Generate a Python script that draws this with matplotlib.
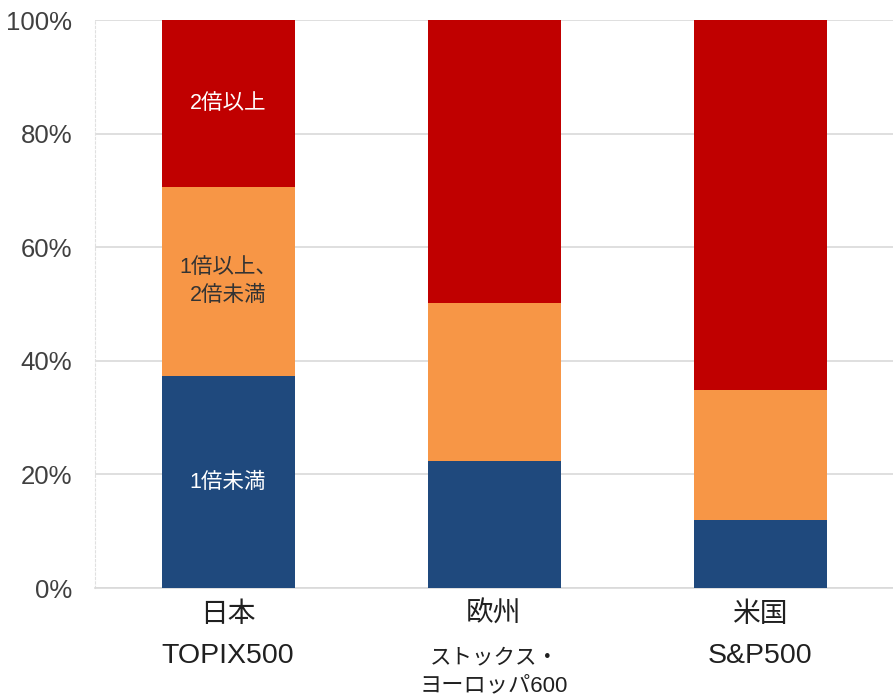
import matplotlib
matplotlib.use("Agg")
import matplotlib.pyplot as plt
import numpy as np

regions = ["日本", "欧州", "米国"]
indices = [["TOPIX500"], ["ストックス・", "ヨーロッパ600"], ["S&P500"]]
series_names = ["1倍未満", "1倍以上、\n2倍未満", "2倍以上"]
below1 = [37.3, 22.4, 12.0]
between1_2 = [33.3, 27.8, 22.9]
above2 = [29.4, 49.8, 65.1]
yticks = [0, 20, 40, 60, 80, 100]
ytick_labels = ["0%", "20%", "40%", "60%", "80%", "100%"]

colors = ["#1F497D", "#F79646", "#C00000"]
label_colors = ["white", "#333333", "white"]

plt.rcParams['font.family'] = ['Liberation Sans', 'Noto Sans CJK JP', 'DejaVu Sans']

fig = plt.figure(figsize=(8.93, 6.99), dpi=100)
ax = fig.add_axes([95/893, 1 - 588/699, 1 - 95/893, (588 - 20)/699])

x = np.arange(len(regions))
bottom = np.zeros(len(regions))
for i, vals in enumerate([below1, between1_2, above2]):
    vals = np.array(vals)
    ax.bar(x, vals, width=0.5, bottom=bottom, color=colors[i], zorder=3)
    ax.text(x[0], bottom[0] + vals[0] / 2, series_names[i], ha='center', va='center',
            color=label_colors[i], fontsize=15.5, linespacing=1.45, zorder=4)
    bottom += vals

ax.set_xlim(-0.5, 2.5)
ax.set_ylim(0, 100)
ax.set_yticks(yticks)
ax.set_yticklabels(ytick_labels, fontsize=18.5, color='#404040')
ax.set_xticks(x)
ax.set_xticklabels([])
ax.tick_params(axis='both', length=0)
ax.tick_params(axis='y', pad=16.5)
ax.grid(axis='y', color='#D9D9D9', linewidth=1.2, zorder=0)

PX = 0.72  # points per pixel at 100 dpi
for xi, reg, idx in zip(x, regions, indices):
    ax.annotate(reg, xy=(xi, 0), xycoords='data', xytext=(0, -27 * PX),
                textcoords='offset points', ha='center', va='center',
                fontsize=20, color='#202020', annotation_clip=False)
    if len(idx) == 1:
        ax.annotate(idx[0], xy=(xi, 0), xycoords='data', xytext=(0, -68 * PX),
                    textcoords='offset points', ha='center', va='center',
                    fontsize=20.5, color='#202020', annotation_clip=False)
    else:
        for j, line in enumerate(idx):
            ax.annotate(line, xy=(xi, 0), xycoords='data',
                        xytext=(0, -(70 + 28 * j) * PX),
                        textcoords='offset points', ha='center', va='center',
                        fontsize=15.5 + j * 0.5, color='#202020',
                        annotation_clip=False)

for s in ['top', 'right']:
    ax.spines[s].set_visible(False)
ax.spines['left'].set_color('#E0E0E0')
ax.spines['left'].set_linestyle((0, (2, 2)))
ax.spines['bottom'].set_color('#D9D9D9')
ax.spines['bottom'].set_linewidth(1.2)

fig.savefig("out.png", dpi=100)
